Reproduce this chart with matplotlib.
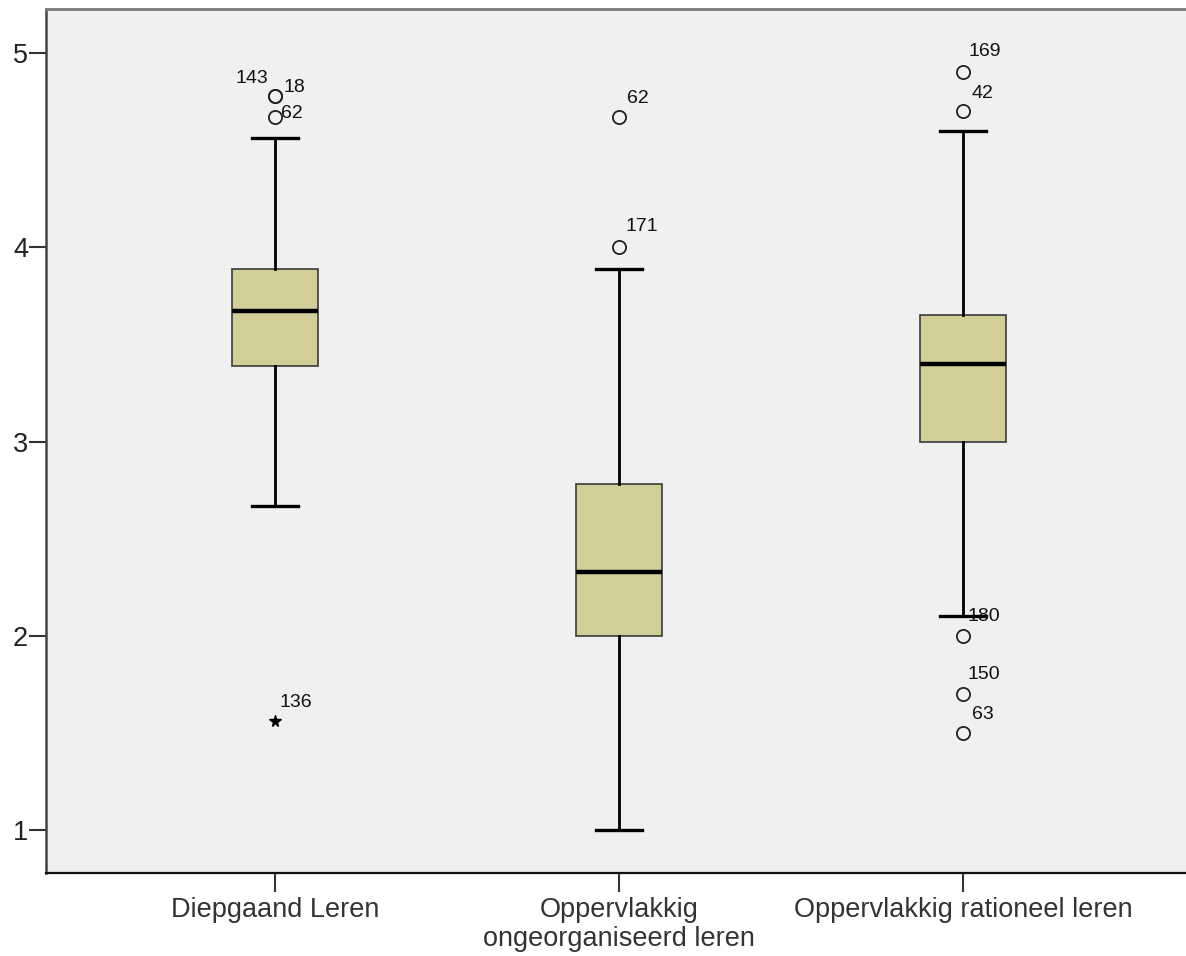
import matplotlib
matplotlib.use('Agg')
import matplotlib.pyplot as plt

# Data
categories = ['Diepgaand Leren', 'Oppervlakkig\nongeorganiseerd leren', 'Oppervlakkig rationeel leren']
q1 = [3.39, 2.00, 3.00]
medians = [3.67, 2.33, 3.40]
q3 = [3.89, 2.78, 3.65]
whislo = [2.67, 1.00, 2.10]
whishi = [4.56, 3.89, 4.60]

# outliers (circles) per group, with case labels
outlier_vals = [[4.78, 4.78, 4.67], [4.67, 4.00], [4.90, 4.70, 2.00, 1.70, 1.50]]
outlier_ids = [['143', '18', '62'], ['62', '171'], ['169', '42', '180', '150', '63']]
# extreme values (stars)
extreme_vals = [[1.56], [], []]
extreme_ids = [['136'], [], []]

# label offsets in pixels (dx, dy, ha) - layout only
outlier_offsets = [[(-7, 13, 'right'), (8, 4, 'left'), (6, -1, 'left')],
                   [(8, 14, 'left'), (6, 16, 'left')],
                   [(6, 16, 'left'), (9, 13, 'left'), (5, 15, 'left'), (5, 15, 'left'), (9, 14, 'left')]]
extreme_offsets = [[(4, 14, 'left')], [], []]

plt.rcParams['font.family'] = ['Liberation Sans', 'DejaVu Sans']

fig = plt.figure(figsize=(11.86, 9.56), dpi=100)
ax = fig.add_axes([46 / 1186, 1 - 873 / 956, (1192 - 46) / 1186, (873 - 9) / 956])
ax.set_facecolor('#F0F0F0')

positions = [1, 2, 3]
stats = []
for i in range(len(categories)):
    stats.append({'q1': q1[i], 'med': medians[i], 'q3': q3[i],
                  'whislo': whislo[i], 'whishi': whishi[i], 'fliers': []})

ax.bxp(stats, positions=positions, widths=0.25, capwidths=0.135, patch_artist=True,
       showfliers=False,
       boxprops=dict(facecolor='#D3CE98', edgecolor='#3a3a3a', linewidth=1.2),
       medianprops=dict(color='black', linewidth=3.2),
       whiskerprops=dict(color='black', linewidth=2.0),
       capprops=dict(color='black', linewidth=2.4))

for i, pos in enumerate(positions):
    for v, lab, off in zip(outlier_vals[i], outlier_ids[i], outlier_offsets[i]):
        ax.plot(pos, v, marker='o', markersize=9.5, markerfacecolor='none',
                markeredgecolor='#222222', markeredgewidth=1.3, zorder=4)
        ax.annotate(lab, (pos, v), xytext=(off[0], off[1]), textcoords='offset pixels',
                    ha=off[2], va='baseline', fontsize=14, color='#111111')
    for v, lab, off in zip(extreme_vals[i], extreme_ids[i], extreme_offsets[i]):
        ax.plot(pos, v, marker='*', markersize=8.5, color='black', zorder=4)
        ax.annotate(lab, (pos, v), xytext=(off[0], off[1]), textcoords='offset pixels',
                    ha=off[2], va='baseline', fontsize=14, color='#111111')

ax.set_xlim(0.334, 3.666)
ax.set_ylim(0.779, 5.2265)
ax.set_yticks([1, 2, 3, 4, 5])
ax.set_xticks(positions)
ax.set_xticklabels(categories, fontsize=19.5, linespacing=1.15, color='#111111')
ax.tick_params(axis='y', labelsize=19.5, length=12, width=1.5, pad=1, colors='#333333',
               labelcolor='#222222')
ax.tick_params(axis='x', length=14, width=1.5, pad=3, colors='#333333')

ax.spines['left'].set_color('#444444')
ax.spines['left'].set_linewidth(1.8)
ax.spines['bottom'].set_color('#111111')
ax.spines['bottom'].set_linewidth(1.6)
ax.spines['top'].set_color('#7a7a7a')
ax.spines['top'].set_linewidth(2.0)
ax.spines['right'].set_visible(False)

fig.savefig('out.png', dpi=100)
